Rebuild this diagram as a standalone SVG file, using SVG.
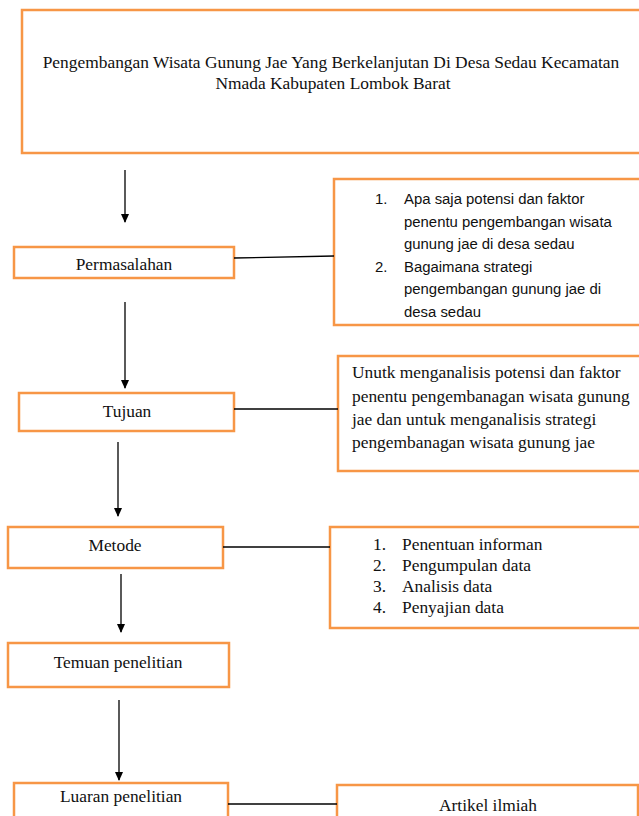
<svg xmlns="http://www.w3.org/2000/svg" width="639" height="816" viewBox="0 0 639 816">
<style>
.box{fill:#fff;stroke:#F79646;stroke-width:2.5}
.t{font-family:"Liberation Serif","Times New Roman",serif;font-size:17.4px;fill:#111}
.s{font-family:"Liberation Sans",Arial,sans-serif;font-size:14.9px;fill:#111}
.c{text-anchor:middle}
.ln{stroke:#000;stroke-width:1.3;fill:none}
.ar{stroke:#000;stroke-width:1.3;fill:none;marker-end:url(#ah)}
</style>
<defs>
<marker id="ah" markerWidth="10" markerHeight="10" refX="8" refY="4" orient="auto" markerUnits="userSpaceOnUse">
<path d="M0,0 L9,4 L0,8 Z" fill="#000"/>
</marker>
</defs>
<rect width="639" height="816" fill="#fff"/>
<g id="judul">
<rect class="box" x="22" y="10" width="630" height="143" stroke-width="3"/>
<text class="t c" x="331" y="68">Pengembangan Wisata Gunung Jae Yang Berkelanjutan Di Desa Sedau Kecamatan</text>
<text class="t c" x="333" y="89">Nmada Kabupaten Lombok Barat</text>
</g>
<g id="permasalahan">
<rect class="box" x="14" y="247" width="220" height="31"/>
<text class="t c" x="124" y="270">Permasalahan</text>
</g>
<g id="rumusan">
<rect class="box" x="334" y="179" width="315" height="146"/>
<text class="s" x="375" y="204">1.</text><text class="s" x="404" y="204">Apa saja potensi dan faktor</text>
<text class="s" x="404" y="227">penentu pengembangan wisata</text>
<text class="s" x="404" y="249">gunung jae di desa sedau</text>
<text class="s" x="375" y="272">2.</text><text class="s" x="404" y="272">Bagaimana strategi</text>
<text class="s" x="404" y="294">pengembangan gunung jae di</text>
<text class="s" x="404" y="317">desa sedau</text>
</g>
<g id="tujuan">
<rect class="box" x="19" y="393" width="215" height="38"/>
<text class="t c" x="127" y="417">Tujuan</text>
</g>
<g id="tujuan-isi">
<rect class="box" x="338" y="356" width="310" height="115"/>
<text class="t" x="352" y="378">Unutk menganalisis potensi dan faktor</text>
<text class="t" x="352" y="402">penentu pengembanagan wisata gunung</text>
<text class="t" x="352" y="425">jae dan untuk menganalisis strategi</text>
<text class="t" x="352" y="448">pengembanagan wisata gunung  jae</text>
</g>
<g id="metode">
<rect class="box" x="8" y="527" width="215" height="41"/>
<text class="t c" x="115" y="551">Metode</text>
</g>
<g id="metode-isi">
<rect class="box" x="330" y="527" width="320" height="101"/>
<text class="t" x="373" y="550">1.</text><text class="t" x="402" y="550">Penentuan informan</text>
<text class="t" x="373" y="571">2.</text><text class="t" x="402" y="571">Pengumpulan data</text>
<text class="t" x="373" y="592">3.</text><text class="t" x="402" y="592">Analisis data</text>
<text class="t" x="373" y="613">4.</text><text class="t" x="402" y="613">Penyajian data</text>
</g>
<g id="temuan">
<rect class="box" x="8" y="643" width="221" height="44"/>
<text class="t c" x="118" y="668">Temuan penelitian</text>
</g>
<g id="luaran">
<rect class="box" x="14" y="783" width="214" height="45"/>
<text class="t c" x="121" y="802">Luaran penelitian</text>
</g>
<g id="artikel">
<rect class="box" x="337" y="785" width="301" height="45"/>
<text class="t c" x="488" y="811">Artikel ilmiah</text>
</g>
<g id="connectors">
<line class="ar" x1="125" y1="170" x2="125" y2="222"/>
<line class="ar" x1="125" y1="302" x2="125" y2="388"/>
<line class="ar" x1="118" y1="442" x2="118" y2="516"/>
<line class="ar" x1="121" y1="574" x2="121" y2="632"/>
<line class="ar" x1="119" y1="700" x2="119" y2="780"/>
<line class="ln" x1="234" y1="258" x2="334" y2="256"/>
<line class="ln" x1="234" y1="409" x2="338" y2="409"/>
<line class="ln" x1="223" y1="547" x2="330" y2="547"/>
<line class="ln" x1="228" y1="804" x2="337" y2="804" stroke-width="2.6"/>
</g>
</svg>
